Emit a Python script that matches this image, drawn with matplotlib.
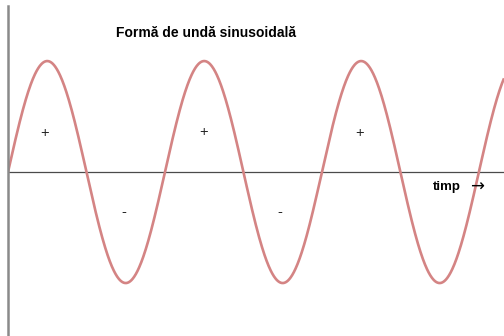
import numpy as np
import matplotlib.pyplot as plt

# waveform parameters (time in cycles, unit amplitude)
amplitude = 1.0
cycles_shown = 3.16
title = 'Formă de undă sinusoidală'
axis_label = 'timp'

# half-cycle polarity marks
sign_text = ['+', '-', '+', '-', '+']
sign_t = [0.236, 0.74, 1.245, 1.73, 2.24]
sign_y = [0.35, -0.36, 0.36, -0.36, 0.35]

t = np.linspace(0, cycles_shown, 1200)
wave = amplitude * np.sin(2 * np.pi * t)

fig = plt.figure(figsize=(5.04, 3.36), dpi=100)
ax = fig.add_axes([8 / 504, 0, 1 - 8 / 504, 1])
ax.set_xlim(0, cycles_shown)
ax.set_ylim(-1.477, 1.55)
ax.axis('off')

ax.plot(t, wave, color='#d48484', lw=1.9, solid_capstyle='butt', zorder=3)
ax.axhline(0, color='#4a4a4a', lw=0.9, zorder=2)
ax.plot([0, 0], [-1.477, 1.495], color='#8a8a8a', lw=1.8, clip_on=False, zorder=4)

for s, x, y in zip(sign_text, sign_t, sign_y):
    ax.text(x, y, s, ha='center', va='center', fontsize=10.5,
            family='Liberation Sans', color='#222222')

ax.text(1.262, 1.25, title, ha='center', va='center', fontsize=10,
        fontweight='bold', family='Liberation Sans')
ax.text(2.796, -0.135, axis_label, ha='center', va='center', fontsize=9.5,
        fontweight='bold', family='Liberation Sans')
ax.text(2.99, -0.13, '→', ha='center', va='center', fontsize=12,
        family='DejaVu Sans')

fig.savefig('out.png', dpi=100)
